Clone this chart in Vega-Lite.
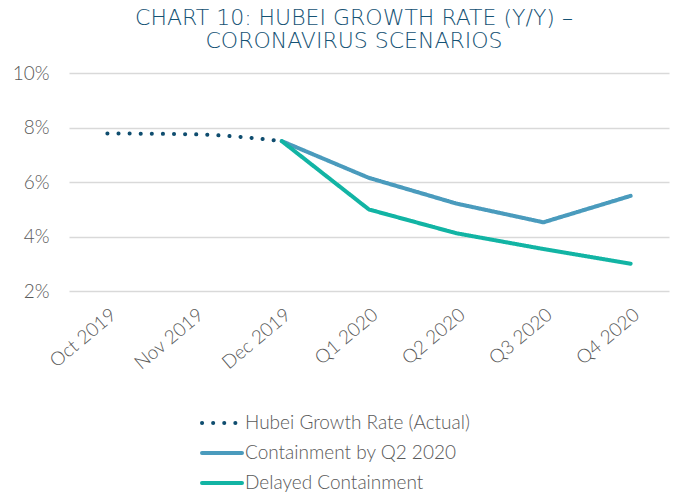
{
  "$schema": "https://vega.github.io/schema/vega-lite/v6.json",
  "autosize": {"type": "none"},
  "width": 600,
  "height": 218,
  "padding": {"top": 73, "left": 69, "right": 4, "bottom": 204},
  "background": "white",
  "title": {
    "text": ["CHART 10: HUBEI GROWTH RATE (Y/Y)  –", "CORONAVIRUS SCENARIOS"],
    "font": "DejaVu Sans",
    "fontSize": 22,
    "fontWeight": 200,
    "color": "#155274",
    "anchor": "middle",
    "dx": -15,
    "offset": 11,
    "lineHeight": 23,
    "limit": 0
  },
  "config": {
    "view": {"stroke": null},
    "font": "Lato",
    "axis": {"labelFont": "Lato", "labelFontWeight": 300, "labelColor": "#595959", "labelFontSize": 19, "domain": false, "ticks": false, "title": null},
    "legend": {
      "title": null,
      "orient": "none",
      "legendX": 141,
      "legendY": 338,
      "symbolType": "M-2,0H2",
      "symbolStrokeWidth": 4,
      "symbolSize": 400,
      "labelFont": "Lato",
      "labelFontWeight": 300,
      "labelFontSize": 19,
      "labelColor": "#595959",
      "labelLimit": 0,
      "labelOffset": 11,
      "rowPadding": 8
    }
  },
  "data": {
    "values": [
      {"period": "Oct 2019", "series": "Hubei Growth Rate (Actual)", "value": 7.78},
      {"period": "Nov 2019", "series": "Hubei Growth Rate (Actual)", "value": 7.75},
      {"period": "Dec 2019", "series": "Hubei Growth Rate (Actual)", "value": 7.5},
      {"period": "Dec 2019", "series": "Containment by Q2 2020", "value": 7.5},
      {"period": "Q1 2020", "series": "Containment by Q2 2020", "value": 6.15},
      {"period": "Q2 2020", "series": "Containment by Q2 2020", "value": 5.21},
      {"period": "Q3 2020", "series": "Containment by Q2 2020", "value": 4.52},
      {"period": "Q4 2020", "series": "Containment by Q2 2020", "value": 5.49},
      {"period": "Dec 2019", "series": "Delayed Containment", "value": 7.5},
      {"period": "Q1 2020", "series": "Delayed Containment", "value": 4.99},
      {"period": "Q2 2020", "series": "Delayed Containment", "value": 4.12},
      {"period": "Q3 2020", "series": "Delayed Containment", "value": 3.54},
      {"period": "Q4 2020", "series": "Delayed Containment", "value": 3.0}
    ]
  },
  "encoding": {
    "x": {
      "field": "period",
      "type": "ordinal",
      "sort": ["Oct 2019", "Nov 2019", "Dec 2019", "Q1 2020", "Q2 2020", "Q3 2020", "Q4 2020"],
      "scale": {"type": "point", "padding": 0.44},
      "axis": {"labelAngle": -40, "labelPadding": 14, "grid": false}
    },
    "y": {
      "field": "value",
      "type": "quantitative",
      "scale": {"domain": [2, 10], "nice": false, "zero": false},
      "axis": {"values": [2, 4, 6, 8, 10], "labelExpr": "datum.value + '%'", "labelPadding": 20, "grid": true, "gridColor": "#d9d9d9", "gridWidth": 1.5}
    },
    "color": {
      "field": "series",
      "type": "nominal",
      "scale": {
        "domain": ["Hubei Growth Rate (Actual)", "Containment by Q2 2020", "Delayed Containment"],
        "range": ["#0f4d6f", "#4a9bbd", "#12b4a4"]
      },
      "legend": {
        "encode": {"symbols": {"update": {"strokeCap": {"value": "round"}}}}
      }
    }
  },
  "layer": [
    {
      "transform": [{"filter": "datum.series === 'Hubei Growth Rate (Actual)'"}],
      "mark": {"type": "line", "strokeWidth": 4, "strokeCap": "round", "strokeDash": [0.1, 11], "interpolate": "monotone"}
    },
    {
      "transform": [{"filter": "datum.series !== 'Hubei Growth Rate (Actual)'"}],
      "mark": {"type": "line", "strokeWidth": 4, "strokeCap": "round", "strokeJoin": "round"},
      "encoding": {
        "strokeDash": {
          "field": "series",
          "type": "nominal",
          "scale": {
            "domain": ["Hubei Growth Rate (Actual)", "Containment by Q2 2020", "Delayed Containment"],
            "range": [[0.1, 11], [1, 0], [1, 0]]
          },
          "legend": {
            "encode": {"symbols": {"update": {"strokeCap": {"value": "round"}}}}
          }
        }
      }
    }
  ]
}
